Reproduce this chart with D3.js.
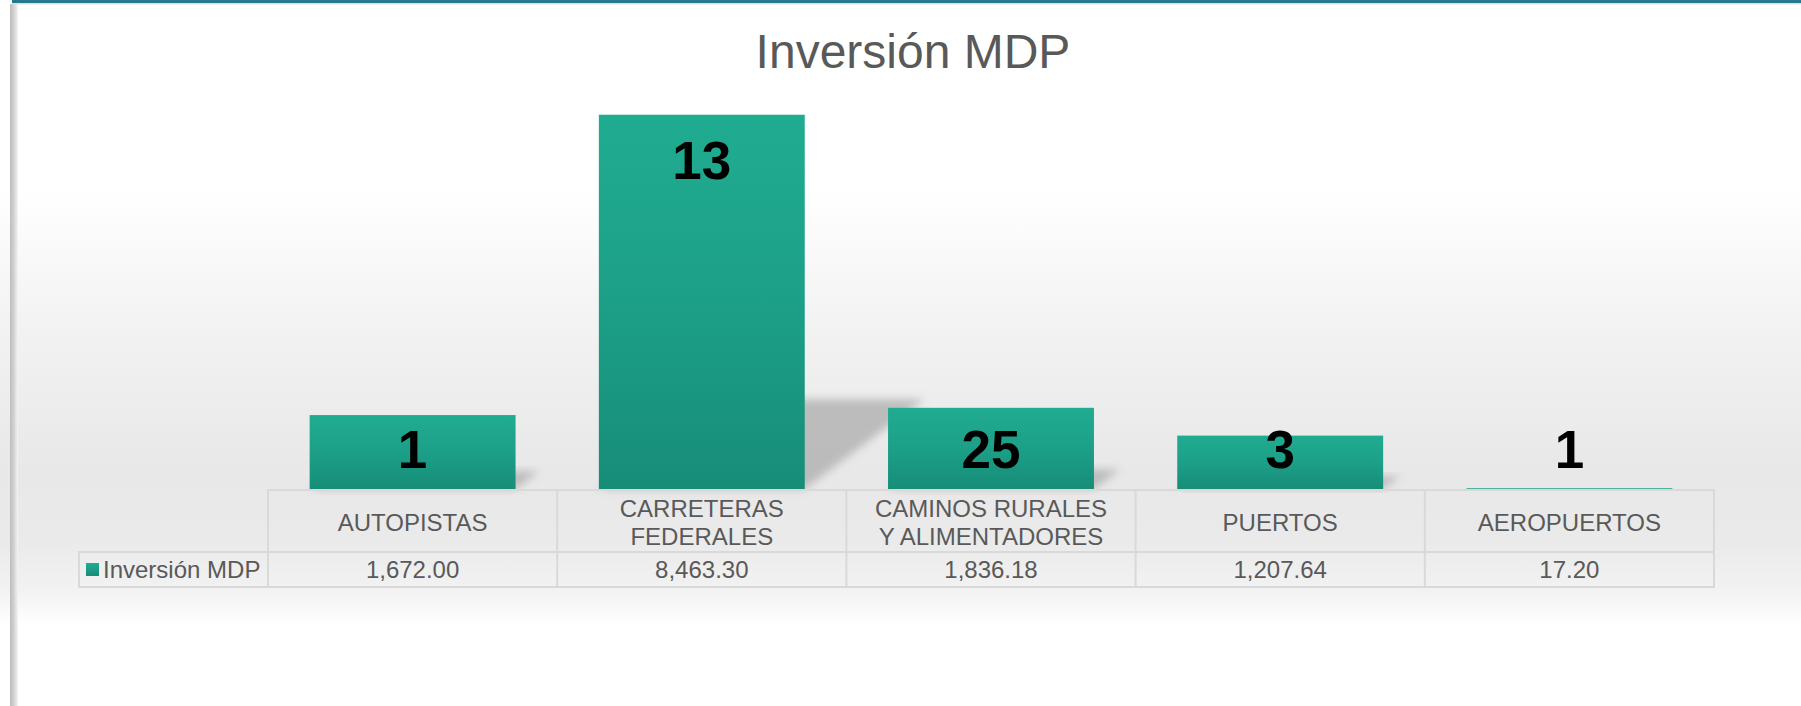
<!DOCTYPE html>
<html>
<head>
<meta charset="utf-8">
<script src="https://cdn.jsdelivr.net/npm/d3@7"></script>
<style>
  html, body { margin: 0; padding: 0; background: #ffffff; }
  svg { display: block; }
  text { font-family: "Liberation Sans", Arial, sans-serif; }
</style>
</head>
<body>
<svg id="chart" width="1801" height="706"></svg>
<script>
// ---- data ----
const chartTitle = "Inversión MDP";
const seriesName = "Inversión MDP";
const categories = ["AUTOPISTAS", "CARRETERAS FEDERALES", "CAMINOS RURALES Y ALIMENTADORES", "PUERTOS", "AEROPUERTOS"];
const categoryLines = [["AUTOPISTAS"], ["CARRETERAS", "FEDERALES"], ["CAMINOS RURALES", "Y ALIMENTADORES"], ["PUERTOS"], ["AEROPUERTOS"]];
const inversion = [1672.00, 8463.30, 1836.18, 1207.64, 17.20];
const tableValues = ["1,672.00", "8,463.30", "1,836.18", "1,207.64", "17.20"];
const dataLabels = [1, 13, 25, 3, 1];
const yDomain = [0, 9000];

// ---- layout ----
const W = 1801, H = 706;
const svg = d3.select("#chart");
const defs = svg.append("defs");

const bg = defs.append("linearGradient").attr("id", "bgGrad")
  .attr("gradientUnits", "userSpaceOnUse").attr("x1", 0).attr("y1", 0).attr("x2", 0).attr("y2", H);
[[0, "#ffffff"], [190, "#ffffff"], [330, "#f2f2f2"], [470, "#e8e8e8"], [540, "#eaeaea"], [590, "#f2f2f2"], [625, "#ffffff"], [706, "#ffffff"]]
  .forEach(([o, c]) => bg.append("stop").attr("offset", o / H).attr("stop-color", c));

const barGrad = defs.append("linearGradient").attr("id", "barGrad")
  .attr("x1", 0).attr("y1", 0).attr("x2", 0).attr("y2", 1);
barGrad.append("stop").attr("offset", 0).attr("stop-color", "#20ac90");
barGrad.append("stop").attr("offset", 0.45).attr("stop-color", "#1da189");
barGrad.append("stop").attr("offset", 1).attr("stop-color", "#178d78");

const keyGrad = defs.append("linearGradient").attr("id", "keyGrad")
  .attr("x1", 0).attr("y1", 0).attr("x2", 0).attr("y2", 1);
keyGrad.append("stop").attr("offset", 0).attr("stop-color", "#20ac90");
keyGrad.append("stop").attr("offset", 1).attr("stop-color", "#178d78");

const blur = defs.append("filter").attr("id", "shadowBlur")
  .attr("x", "-30%").attr("y", "-30%").attr("width", "160%").attr("height", "160%");
blur.append("feGaussianBlur").attr("stdDeviation", 4.5);

const leftGrad = defs.append("linearGradient").attr("id", "leftGrad")
  .attr("x1", 0).attr("y1", 0).attr("x2", 1).attr("y2", 0);
leftGrad.append("stop").attr("offset", 0).attr("stop-color", "#bdbdbd");
leftGrad.append("stop").attr("offset", 0.45).attr("stop-color", "#d0d0d0");
leftGrad.append("stop").attr("offset", 1).attr("stop-color", "#f4f4f4");

// background
svg.append("rect").attr("x", 0).attr("y", 0).attr("width", W).attr("height", H).attr("fill", "url(#bgGrad)");
// left border
svg.append("rect").attr("x", 10).attr("y", 4).attr("width", 8).attr("height", H - 4).attr("fill", "url(#leftGrad)");
// top stripe
svg.append("rect").attr("x", 12).attr("y", 0).attr("width", W - 12).attr("height", 3).attr("fill", "#25798b");
svg.append("rect").attr("x", 12).attr("y", 3).attr("width", W - 12).attr("height", 1.5).attr("fill", "#d6dfe2");

// title
svg.append("text").attr("x", 913).attr("y", 68).attr("text-anchor", "middle")
  .attr("font-size", 48).attr("fill", "#595959").text(chartTitle);

// scales
const tableLeft = 268, tableRight = 1714;
const colScale = d3.scaleBand().domain(categories).range([tableLeft, tableRight]);
const barScale = d3.scaleBand().domain(categories).range([tableLeft, tableRight])
  .paddingInner(0.288).paddingOuter(0.144);
const y = d3.scaleLinear().domain(yDomain).range([489, 91]);
const y0 = y(0);

const data = categories.map((c, i) => ({ cat: c, v: inversion[i], label: dataLabels[i], lines: categoryLines[i], tv: tableValues[i] }));

// shadows (perspective)
svg.append("g").selectAll("polygon").data(data).join("polygon")
  .attr("points", d => {
    const xa = barScale(d.cat), xb = xa + barScale.bandwidth();
    const hs = (y0 - y(d.v)) * 0.24, dx = hs * 1.33;
    return [[xa, y0], [xb, y0], [xb + dx, y0 - hs], [xa + dx, y0 - hs]].map(p => p.join(",")).join(" ");
  })
  .attr("fill", "#b4b4b4").attr("opacity", 0.85).attr("filter", "url(#shadowBlur)");

// bars
svg.append("g").selectAll("rect").data(data).join("rect")
  .attr("x", d => barScale(d.cat))
  .attr("y", d => y(d.v))
  .attr("width", barScale.bandwidth())
  .attr("height", d => y0 - y(d.v))
  .attr("fill", "url(#barGrad)");

// data labels
svg.append("g").selectAll("text").data(data).join("text")
  .attr("x", d => barScale(d.cat) + barScale.bandwidth() / 2)
  .attr("y", d => Math.min(y(d.v) + 64, y0 - 21))
  .attr("text-anchor", "middle").attr("font-size", 53).attr("font-weight", "bold")
  .attr("fill", "#000000").text(d => d.label);

// data table
const rowTop = 490, rowMid = 552, rowBot = 587, labelLeft = 79;
const border = "#d9d9d9";
const tbl = svg.append("g");
tbl.append("rect").attr("x", tableLeft).attr("y", rowTop).attr("width", tableRight - tableLeft).attr("height", rowMid - rowTop)
  .attr("fill", "none").attr("stroke", border).attr("stroke-width", 2);
tbl.append("rect").attr("x", labelLeft).attr("y", rowMid).attr("width", tableRight - labelLeft).attr("height", rowBot - rowMid)
  .attr("fill", "none").attr("stroke", border).attr("stroke-width", 2);
tbl.selectAll("line.col").data(categories.slice(1)).join("line").attr("class", "col")
  .attr("x1", d => colScale(d)).attr("x2", d => colScale(d))
  .attr("y1", rowTop).attr("y2", rowBot).attr("stroke", border).attr("stroke-width", 2);
tbl.append("line").attr("x1", tableLeft).attr("x2", tableLeft).attr("y1", rowMid).attr("y2", rowBot)
  .attr("stroke", border).attr("stroke-width", 2);

// header text
const hdr = tbl.selectAll("text.hdr").data(data).join("text").attr("class", "hdr")
  .attr("x", d => colScale(d.cat) + colScale.bandwidth() / 2)
  .attr("text-anchor", "middle").attr("font-size", 24).attr("fill", "#595959");
hdr.each(function(d) {
  const n = d.lines.length, lh = 28, cy = (rowTop + rowMid) / 2 + 1;
  d3.select(this).selectAll("tspan").data(d.lines).join("tspan")
    .attr("x", colScale(d.cat) + colScale.bandwidth() / 2)
    .attr("y", (t, i) => cy + (i - (n - 1) / 2) * lh + 8.5)
    .text(t => t);
});

// value row
tbl.selectAll("text.val").data(data).join("text").attr("class", "val")
  .attr("x", d => colScale(d.cat) + colScale.bandwidth() / 2)
  .attr("y", (rowMid + rowBot) / 2 + 8.5)
  .attr("text-anchor", "middle").attr("font-size", 24).attr("fill", "#595959").text(d => d.tv);

// legend key + series name
tbl.append("rect").attr("x", 86).attr("y", 563).attr("width", 13).attr("height", 13).attr("fill", "url(#keyGrad)");
tbl.append("text").attr("x", 103).attr("y", (rowMid + rowBot) / 2 + 8.5)
  .attr("font-size", 24).attr("fill", "#595959").text(seriesName);
</script>
</body>
</html>
